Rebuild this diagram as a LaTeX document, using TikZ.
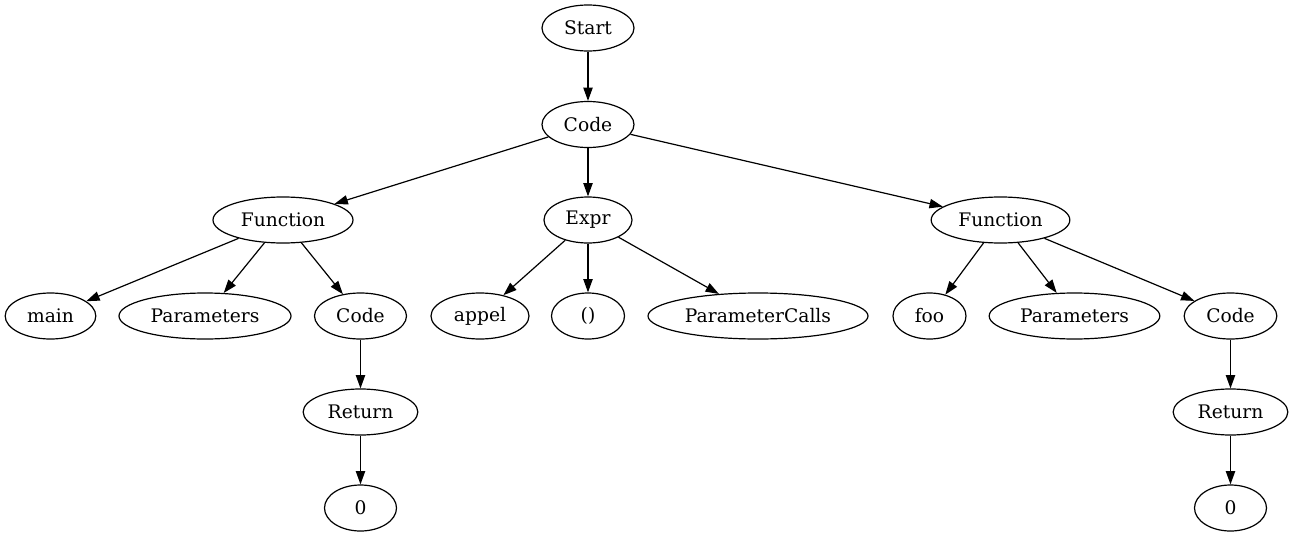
\documentclass[tikz,border=0pt]{standalone}
\usepackage{fontspec}
\setmainfont{DejaVu Serif}
\usetikzlibrary{shapes.geometric,arrows.meta}
\begin{document}
\begin{tikzpicture}[x=0.75pt,y=-0.75pt,
  nd/.style={draw, ellipse, line width=0.9pt, minimum height=34.5pt, inner sep=0pt, font=\fontsize{14}{16}\selectfont},
  ed/.style={line width=0.9pt, -{Triangle[length=10pt,width=7pt]}}]
\useasboundingbox (0,0) rectangle (1293,539);
\node[nd, minimum width=69pt] (start) at (588,28) {Start};
\node[nd, minimum width=69pt] (code) at (588,124.5) {Code};
\node[nd, minimum width=105pt] (f1) at (283,220) {Function};
\node[nd, minimum width=66pt] (expr) at (588,220) {Expr};
\node[nd, minimum width=104pt] (f2) at (1000.5,220) {Function};
\node[nd, minimum width=68pt] (main) at (50.5,316) {main};
\node[nd, minimum width=129pt] (p1) at (205,316) {Parameters};
\node[nd, minimum width=69pt] (c1) at (360.5,316) {Code};
\node[nd, minimum width=73.5pt] (appel) at (480,316) {appel};
\node[nd, minimum width=54.75pt] (par) at (588,316) {()};
\node[nd, minimum width=165pt] (pc) at (758,316) {ParameterCalls};
\node[nd, minimum width=54.75pt] (foo) at (929.5,316) {foo};
\node[nd, minimum width=128pt] (p2) at (1074.5,316) {Parameters};
\node[nd, minimum width=69.5pt] (c2) at (1230.5,316) {Code};
\node[nd, minimum width=86pt] (r1) at (360.5,412) {Return};
\node[nd, minimum width=54pt] (z1) at (360.5,508) {0};
\node[nd, minimum width=86pt] (r2) at (1230.5,412) {Return};
\node[nd, minimum width=54pt] (z2) at (1230.5,508) {0};
\draw[ed] (start) -- (code);
\draw[ed] (code) -- (f1);
\draw[ed] (code) -- (expr);
\draw[ed] (code) -- (f2);
\draw[ed] (f1) -- (main);
\draw[ed] (f1) -- (p1);
\draw[ed] (f1) -- (c1);
\draw[ed] (expr) -- (appel);
\draw[ed] (expr) -- (par);
\draw[ed] (expr) -- (pc);
\draw[ed] (f2) -- (foo);
\draw[ed] (f2) -- (p2);
\draw[ed] (f2) -- (c2);
\draw[ed] (c1) -- (r1);
\draw[ed] (r1) -- (z1);
\draw[ed] (c2) -- (r2);
\draw[ed] (r2) -- (z2);
\end{tikzpicture}
\end{document}
